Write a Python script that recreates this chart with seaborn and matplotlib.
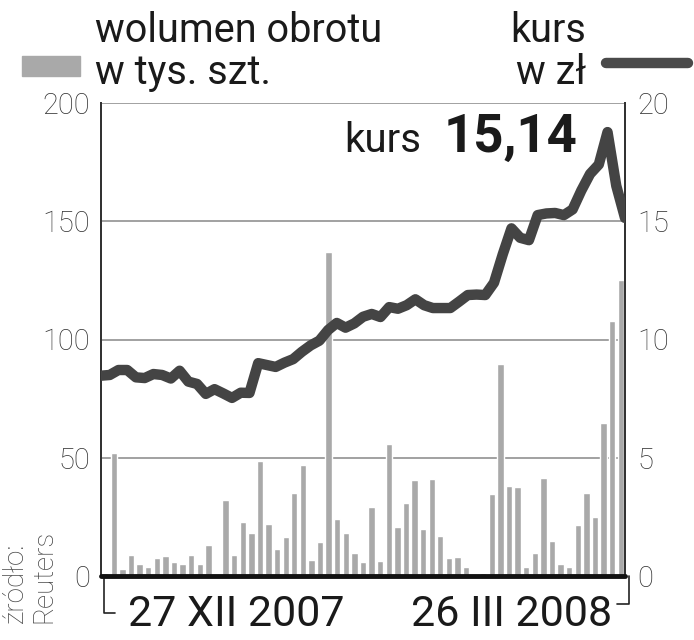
import numpy as np
import pandas as pd
import matplotlib
matplotlib.use("Agg")
import matplotlib.pyplot as plt
from matplotlib.lines import Line2D
from matplotlib.patches import Rectangle
import seaborn as sns

# wolumen obrotu w tys. szt. (one bar per session)
wolumen = [1.4, 52, 3, 9, 5, 4, 7.5, 8.4, 6, 5, 9, 5, 13, 0, 32, 9, 23, 18, 48.5, 22,
           11.4, 16.5, 35, 47, 6.8, 14.3, 137, 24, 18, 9.8, 6, 29, 6.5, 56, 20.7, 31, 40.5, 20, 41, 17,
           7.6, 8, 3.8, 0.8, 1.2, 34.6, 89.5, 38, 37.5, 3.9, 9.7, 41.4, 14.8, 5, 4, 21.5, 35, 24.9, 64.6, 108,
           125]

# kurs w zl
kurs = [8.47, 8.5, 8.71, 8.71, 8.4, 8.37, 8.54, 8.5, 8.35, 8.68, 8.22, 8.12, 7.7, 7.9, 7.72, 7.53,
        7.75, 7.74, 9.0, 8.92, 8.84, 9.02, 9.17, 9.48, 9.75, 9.95, 10.4, 10.7, 10.5, 10.68, 10.96,
        11.08, 10.95, 11.37, 11.3, 11.45, 11.7, 11.45, 11.33, 11.33, 11.33, 11.6, 11.88, 11.9, 11.88,
        12.4, 13.6, 14.7, 14.3, 14.2, 15.26, 15.33, 15.35, 15.26, 15.5, 16.3, 17.0, 17.4, 18.77, 16.5,
        15.14]

left_ticks = [0, 50, 100, 150, 200]
right_ticks = [0, 5, 10, 15, 20]
daty = ["27 XII 2007", "26 III 2008"]
ostatni_kurs = "15,14"

BAR = "#a9a9a9"
LINE = "#444444"
TXT = "#1a1a1a"

sns.set_style("white")
plt.rcParams["font.family"] = ["Roboto", "DejaVu Sans"]

W, H = 694, 640
fig = plt.figure(figsize=(W / 100, H / 100), dpi=100)
ax = fig.add_axes([101 / W, 1 - 576 / H, 524 / W, 473 / H])

df = pd.DataFrame({"i": np.arange(len(wolumen)), "v": wolumen})
sns.barplot(data=df, x="i", y="v", color=BAR, saturation=1, width=0.74, ax=ax, zorder=2)
ax.set_xlim(-0.5, len(wolumen) - 0.5)
ax.set_ylim(0, 200)
ax.set_yticks(left_ticks)
ax.set_xticks([])
ax.set_xlabel("")
ax.set_ylabel("")
for y in left_ticks[1:]:
    ax.axhline(y, color="#9a9a9a", lw=1.3, zorder=1)
ax.tick_params(axis="y", length=0, pad=8, labelsize=21, labelcolor="#333333")
for t in ax.get_yticklabels():
    t.set_fontweight("light")

ax2 = ax.twinx()
kx = np.linspace(-0.5, len(wolumen) - 0.5, len(kurs))
sns.lineplot(x=kx, y=kurs, color=LINE, lw=7.5, ax=ax2, zorder=3,
             solid_joinstyle="round", solid_capstyle="round")
ax2.set_ylim(0, 20)
ax2.set_yticks(right_ticks)
ax2.tick_params(axis="y", length=0, pad=9, labelsize=21, labelcolor="#333333")
for t in ax2.get_yticklabels():
    t.set_fontweight("light")
ax2.set_xlim(-0.5, len(wolumen) - 0.5)

for a in (ax, ax2):
    a.spines["top"].set_visible(False)
    a.spines["left"].set_color("#333333")
    a.spines["right"].set_color("#333333")
    a.spines["left"].set_linewidth(1.4)
    a.spines["right"].set_linewidth(1.4)
    a.spines["bottom"].set_visible(False)
    a.grid(False)
ax2.axhline(0, color="#111111", lw=3.5, zorder=4, clip_on=False)

# bracket under the time axis
ax.plot([0.005, 0.005, 0.027], [0, -0.078, -0.078], transform=ax.transAxes,
        color="#222222", lw=1.2, clip_on=False)
ax.plot([1.007, 1.007, 0.985], [0, -0.06, -0.06], transform=ax.transAxes,
        color="#222222", lw=1.2, clip_on=False)
fig.text(236 / W, 1 - 626 / H, daty[0], ha="center", va="baseline", fontsize=31, color=TXT)
fig.text(512 / W, 1 - 626 / H, daty[1], ha="center", va="baseline", fontsize=31, color=TXT)

# source
fig.text(2 / W, 1 - 623 / H, "źródło:\nReuters", rotation=90, ha="left", va="bottom",
         fontsize=20, color="#444444", linespacing=1.05, fontweight="light")

# legend
fig.patches.append(Rectangle((22 / W, 1 - 76 / H), 58 / W, 20 / H, transform=fig.transFigure,
                             color=BAR, figure=fig))
fig.text(95 / W, 1 - 42 / H, "wolumen obrotu", ha="left", va="baseline", fontsize=28.5, color=TXT)
fig.text(95 / W, 1 - 84 / H, "w tys. szt.", ha="left", va="baseline", fontsize=28.5, color=TXT)
fig.text(586 / W, 1 - 42 / H, "kurs", ha="right", va="baseline", fontsize=28.5, color=TXT)
fig.text(586 / W, 1 - 84 / H, "w zł", ha="right", va="baseline", fontsize=28.5, color=TXT)
fig.lines.append(Line2D([606 / W, 688 / W], [1 - 63 / H, 1 - 63 / H], transform=fig.transFigure,
                        color="#4a4a4a", lw=7.5, solid_capstyle="round", figure=fig))

# last price
fig.text(578 / W, 1 - 152 / H, ostatni_kurs, ha="right", va="baseline", fontsize=38,
         fontweight="bold", color=TXT)
fig.text(421 / W, 1 - 152 / H, "kurs", ha="right", va="baseline", fontsize=29, color=TXT)

fig.savefig("out.png", dpi=100)
